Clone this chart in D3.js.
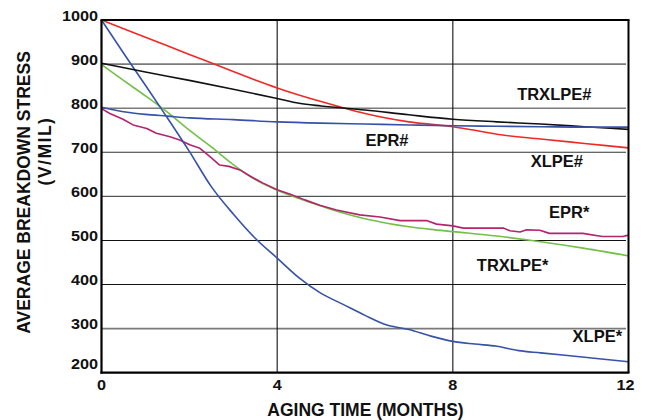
<!DOCTYPE html>
<html>
<head>
<meta charset="utf-8">
<script src="https://cdn.jsdelivr.net/npm/d3@7"></script>
<style>
  html, body { margin: 0; padding: 0; background: #fff; }
  svg { display: block; font-family: "Liberation Sans", Arial, sans-serif; font-weight: bold; }
</style>
</head>
<body>
<svg id="chart" width="646" height="420"></svg>
<script>
// ---------- data ----------
const xTicks = [0, 4, 8, 12];
const yTicks = [200, 300, 400, 500, 600, 700, 800, 900, 1000];

const xlpeHashMonths = [0, 1, 2, 3, 3.5, 4, 5, 5.5, 6, 7, 8, 8.5, 9, 10, 11, 12];
const xlpeHashValues = [1000, 961, 922, 883, 864, 846, 815, 801, 788, 769, 758, 750, 741, 730, 720, 710];

const trxlpeHashMonths = [0, 1, 2, 3, 4, 4.5, 5, 6, 7, 8, 9, 10, 11, 12];
const trxlpeHashValues = [902, 882, 863, 843, 822, 811, 805, 796, 785, 775, 769, 764, 758, 752];

const eprHashMonths = [0, 0.5, 1, 1.5, 2, 3, 4, 5, 6, 7, 8, 9, 10, 11, 12];
const eprHashValues = [802, 792, 786, 782, 778, 774, 769, 766, 764, 762, 760, 759, 758, 757, 757];

const xlpeStarMonths = [0, 0.5, 1, 1.5, 2, 2.5, 3, 3.5, 4, 4.5, 5, 5.5, 6, 6.5, 7, 7.5, 8, 8.5, 9, 9.5, 10, 11, 12];
const xlpeStarValues = [1000, 925, 852, 778, 702, 622, 560, 505, 460, 415, 380, 355, 330, 308, 298, 283, 271, 265, 260, 250, 245, 235, 225];

const trxlpeStarMonths = [0, 0.5, 1, 1.5, 2, 2.5, 3, 3.5, 4, 4.5, 5, 5.5, 6, 6.5, 7, 7.5, 8, 9, 10, 11, 12];
const trxlpeStarValues = [899, 863, 828, 791, 750, 712, 672, 638, 614, 595, 578, 562, 549, 539, 531, 525, 520, 510, 497, 482, 465];

const eprStarMonths = [0, 0.19, 0.49, 0.72, 1.03, 1.25, 1.56, 1.78, 2.01, 2.24, 2.47, 2.69, 2.9, 3.15, 3.4, 3.68, 4, 4.3, 4.63, 4.97, 5.35, 5.88, 6.34, 6.8, 7.4, 7.63, 8.0, 8.24, 9.15, 9.3, 9.53, 9.68, 9.98, 10.2, 10.96, 11.4, 11.87, 12];
const eprStarValues = [799, 788, 775, 762, 754, 743, 735, 728, 717, 709, 690, 671, 668, 660, 645, 630, 615, 605, 592, 580, 569, 558, 553, 545, 545, 537, 533, 528, 528, 522, 519, 524, 523, 516, 516, 509, 509, 512];

const seriesNames = ["XLPE#", "TRXLPE#", "EPR#", "XLPE*", "TRXLPE*", "EPR*"];

// ---------- layout ----------
const svg = d3.select("#chart");
const plotL = 101.5, plotR = 628.5, plotT = 20, plotB = 372.7;
const x = d3.scaleLinear().domain([0, 12]).range([plotL, plotR]);
const y = d3.scaleLinear().domain([200, 1000]).range([plotB, plotT]);

svg.append("rect").attr("width", 646).attr("height", 420).attr("fill", "#fff");

// horizontal gridlines
const gridColor = { 900: "#7a7a7a", 800: "#7a7a7a", 700: "#333", 600: "#555", 500: "#111", 400: "#111", 300: "#7a7a7a" };
svg.append("g").selectAll("line")
  .data(yTicks.filter(d => d > 200 && d < 1000))
  .join("line")
  .attr("x1", plotL).attr("x2", 626)
  .attr("y1", d => y(d)).attr("y2", d => y(d))
  .attr("stroke", d => gridColor[d] || "#333")
  .attr("stroke-width", d => (gridColor[d] === "#7a7a7a" ? 1.6 : 1.1));

// vertical gridlines
svg.append("g").selectAll("line")
  .data(xTicks.filter(d => d > 0 && d < 12))
  .join("line")
  .attr("x1", d => x(d)).attr("x2", d => x(d))
  .attr("y1", plotT).attr("y2", plotB)
  .attr("stroke", "#111").attr("stroke-width", 1.1);

// series lines
const series = [
  { name: seriesNames[0], m: xlpeHashMonths, v: xlpeHashValues, color: "#ee2a26", curve: d3.curveMonotoneX },
  { name: seriesNames[1], m: trxlpeHashMonths, v: trxlpeHashValues, color: "#111111", curve: d3.curveMonotoneX },
  { name: seriesNames[2], m: eprHashMonths, v: eprHashValues, color: "#3552a8", curve: d3.curveMonotoneX },
  { name: seriesNames[3], m: xlpeStarMonths, v: xlpeStarValues, color: "#3552a8", curve: d3.curveMonotoneX },
  { name: seriesNames[4], m: trxlpeStarMonths, v: trxlpeStarValues, color: "#72c046", curve: d3.curveMonotoneX },
  { name: seriesNames[5], m: eprStarMonths, v: eprStarValues, color: "#b2246e", curve: d3.curveLinear }
];

const drawOrder = [4, 5, 3, 0, 1, 2];
drawOrder.forEach(i => {
  const s = series[i];
  const pts = s.m.map((mm, j) => [mm, s.v[j]]);
  const line = d3.line().x(d => x(d[0])).y(d => y(d[1])).curve(s.curve);
  svg.append("path")
    .attr("d", line(pts))
    .attr("fill", "none")
    .attr("stroke", s.color)
    .attr("stroke-width", 1.6)
    .attr("stroke-linejoin", "round");
});

// frame
svg.append("line").attr("x1", plotL - 1).attr("x2", plotR + 1).attr("y1", plotT).attr("y2", plotT)
  .attr("stroke", "#000").attr("stroke-width", 2);
svg.append("line").attr("x1", plotR).attr("x2", plotR).attr("y1", plotT).attr("y2", plotB)
  .attr("stroke", "#000").attr("stroke-width", 2);
svg.append("line").attr("x1", plotL).attr("x2", plotL).attr("y1", plotT).attr("y2", plotB + 1)
  .attr("stroke", "#000").attr("stroke-width", 2.2);
svg.append("line").attr("x1", plotL - 1).attr("x2", plotR + 1).attr("y1", plotB).attr("y2", plotB)
  .attr("stroke", "#000").attr("stroke-width", 2.2);

// y tick labels (sit just above their gridline)
svg.append("g").selectAll("text")
  .data(yTicks)
  .join("text")
  .attr("transform", d => `translate(98,${d === 200 ? y(d) - 4 : y(d) + 0.8}) scale(1.12,1)`)
  .attr("text-anchor", "end")
  .attr("font-size", 14.5)
  .attr("fill", "#111")
  .text(d => d);

// x tick labels
svg.append("g").selectAll("text")
  .data(xTicks)
  .join("text")
  .attr("transform", d => `translate(${d === 12 ? x(d) - 3 : x(d)},390) scale(1.12,1)`)
  .attr("text-anchor", "middle")
  .attr("font-size", 14.5)
  .attr("fill", "#111")
  .text(d => d);

// axis titles
svg.append("text")
  .attr("x", 365.5).attr("y", 415.5)
  .attr("text-anchor", "middle")
  .attr("font-size", 17.5)
  .attr("fill", "#111")
  .text("AGING TIME (MONTHS)");

svg.append("text")
  .attr("transform", "translate(29.5,192.5) rotate(-90)")
  .attr("text-anchor", "middle")
  .attr("font-size", 17.5)
  .attr("fill", "#111")
  .text("AVERAGE BREAKDOWN STRESS");

svg.append("text")
  .attr("transform", "translate(51,151) rotate(-90)")
  .attr("text-anchor", "middle")
  .attr("font-size", 17.5)
  .attr("letter-spacing", 1.5)
  .attr("fill", "#111")
  .text("(V/MIL)");

// series labels, anchored in data units
const labelPos = [
  { name: "TRXLPE#", m: 10.31, v: 818 },
  { name: "XLPE#", m: 10.37, v: 667 },
  { name: "EPR#", m: 6.5, v: 715 },
  { name: "EPR*", m: 10.65, v: 552 },
  { name: "TRXLPE*", m: 9.36, v: 431 },
  { name: "XLPE*", m: 11.29, v: 270 }
];
svg.append("g").selectAll("text")
  .data(labelPos)
  .join("text")
  .attr("x", d => x(d.m)).attr("y", d => y(d.v))
  .attr("text-anchor", "middle")
  .attr("font-size", 16.5)
  .attr("fill", "#111")
  .text(d => d.name);
</script>
</body>
</html>
